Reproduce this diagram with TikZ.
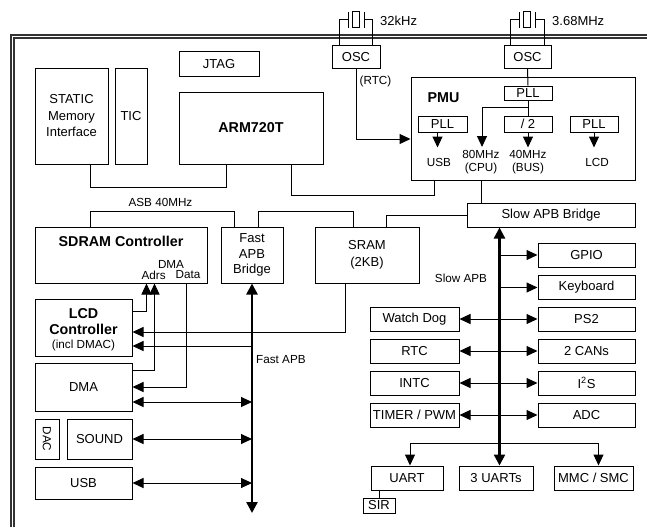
\documentclass[tikz,border=0pt]{standalone}
\usepackage{fontspec}
\setmainfont{Liberation Sans}
\usetikzlibrary{arrows.meta}
\tikzset{
  box/.style={draw, line width=1pt, inner sep=0pt, align=center, font=\fontsize{13}{16.5}\selectfont},
  ttl/.style={inner sep=0pt, align=center, font=\fontsize{14.3}{15.5}\bfseries\selectfont},
  lbl/.style={inner sep=0pt, align=center, font=\fontsize{11.7}{13.5}\selectfont},
  txt/.style={inner sep=0pt, align=center, font=\fontsize{13}{15}\selectfont},
  wire/.style={draw, line width=1pt},
  arr/.style={wire, -{Triangle[length=11pt,width=10pt]}},
  darr/.style={wire, {Triangle[length=11pt,width=10pt]}-{Triangle[length=11pt,width=10pt]}},
  bus/.style={draw, line width=2.4pt, {Triangle[length=11pt,width=11pt]}-{Triangle[length=11pt,width=11pt]}},
  frame/.style={draw, line width=1.1pt, black!80},
}
\begin{document}
\begin{tikzpicture}[x=1pt,y=-1pt]
\useasboundingbox (0,0) rectangle (647,527);
% outer double frame
\draw[frame] (11,527) -- (11,35) -- (647,35);
\draw[frame] (14,527) -- (14,38) -- (647,38);

% top-left blocks
\node[box, minimum width=80pt, minimum height=24pt] (jtag) at (219,64) {JTAG};
\node[box, minimum width=73pt, minimum height=96pt] (static) at (71.5,116) {STATIC\\Memory\\Interface};
\node[box, minimum width=32pt, minimum height=96pt] (tic) at (131,116) {TIC};
\node[box, minimum width=144pt, minimum height=72pt, font=\fontsize{14.3}{16}\bfseries\selectfont] (arm) at (251,128) {ARM720T};

% oscillators
\node[box, minimum width=48pt, minimum height=22pt] (osc1) at (356,57) {OSC};
\node[box, minimum width=47pt, minimum height=22pt] (osc2) at (527.5,57) {OSC};
\node[txt, anchor=west] (f32) at (380,21) {32kHz};
\node[txt, anchor=west] (f368) at (552,21) {3.68MHz};
\node[lbl] (rtcl) at (375.5,81) {(RTC)};

% crystal 1
\draw[wire] ([xshift=8pt]osc1.north west) |- (348,19.5);
\draw[wire] (348,12) -- (348,28);
\draw[wire] (352,12) rectangle (359.5,28);
\draw[wire] (364,12) -- (364,28);
\draw[wire] (364,19.5) -| ([xshift=-8pt]osc1.north east);
% crystal 2
\draw[wire] ([xshift=7pt]osc2.north west) |- (519,19.5);
\draw[wire] (519,12) -- (519,28);
\draw[wire] (523,12) rectangle (530.5,28);
\draw[wire] (535,12) -- (535,28);
\draw[wire] (535,19.5) -| ([xshift=-7pt]osc2.north east);

% PMU
\node[box, minimum width=224pt, minimum height=103pt] (pmu) at (523,128.5) {};
\node[ttl] (pmut) at (443.5,98) {PMU};
\node[box, minimum width=48pt, minimum height=14pt] (pllt) at (528,93) {PLL};
\node[box, minimum width=48pt, minimum height=16pt] (div2) at (528,124) {/ 2};
\node[box, minimum width=49pt, minimum height=16pt] (plll) at (442.5,124) {PLL};
\node[box, minimum width=48pt, minimum height=16pt] (pllr) at (594,124) {PLL};
\node[lbl] (usbc) at (439,162) {USB};
\node[lbl] (cpuc) at (481,162) {80MHz\\(CPU)};
\node[lbl] (busc) at (528,162) {40MHz\\(BUS)};
\node[lbl] (lcdc) at (597,162) {LCD};
\coordinate (tcpu) at (482,147);
\coordinate (br) at ([yshift=-7pt]pllt.south);
\draw[wire] (osc2.south) -- (pllt.north);
\draw[wire] (pllt.south) -- (div2.north);
\draw[arr] (br) -| (tcpu);
\draw[arr] (div2.south) -- ++(0,15);
\draw[arr] ([xshift=-5pt]plll.south) -- ++(0,15);
\draw[arr] (pllr.south) -- ++(0,15);
\coordinate (pmuL) at ([yshift=-10.5pt]pmu.west);
\draw[arr] (osc1.south) |- (pmuL);

% ASB level
\node[box, minimum width=168pt, minimum height=24pt] (sab) at (551,215) {Slow APB Bridge};
\node[box, minimum width=172pt, minimum height=56pt] (sdram) at (121,255) {};
\node[ttl] (sdramt) at (121,241) {SDRAM Controller};
\node[lbl] (dmal) at (171,264) {DMA};
\node[lbl] (adrs) at (153.7,275) {Adrs};
\node[lbl] (data) at (188,275) {Data};
\node[box, minimum width=62pt, minimum height=56pt, font=\fontsize{13}{15.5}\selectfont] (fab) at (252,255) {Fast\\APB\\Bridge};
\node[box, minimum width=104pt, minimum height=56pt] (sram) at (367,255) {SRAM\\(2KB)};
\node[lbl] (asb) at (160.5,202) {ASB 40MHz};

\draw[wire] ([xshift=56pt]static.south west) -- ++(0,23) -| ([xshift=48pt]arm.south west);
\draw[wire] ([xshift=113pt]arm.south west) -- ++(0,31) -| ([xshift=24pt]pmu.south west);
\coordinate (p82) at ([xshift=71pt]pmu.south west);
\draw[wire] (p82) -- (p82 |- sab.north);
\draw[wire] ([xshift=56pt]sdram.north west) -- ++(0,-15) -| ([xshift=14pt]fab.north west);
\draw[wire] ([xshift=38pt]fab.north west) -- ++(0,-15) -| ([xshift=39pt]sram.north west);
\draw[wire] ([xshift=72pt]sram.north west) |- (sab.west);

% left column
\node[box, minimum width=97pt, minimum height=57pt] (lcd) at (83.5,327.5) {};
\node[ttl] (lcdt1) at (83.5,314) {LCD};
\node[ttl] (lcdt2) at (83.5,329) {Controller};
\node[lbl] (lcdt3) at (83.5,345) {(incl DMAC)};
\node[box, minimum width=97pt, minimum height=48pt] (dma) at (83.5,387) {DMA};
\node[box, minimum width=24pt, minimum height=40pt] (dac) at (47,439) {};
\node[lbl, rotate=-90] (dact) at (dac) {DAC};
\node[box, minimum width=65pt, minimum height=40pt] (sound) at (99.5,439) {SOUND};
\node[box, minimum width=97pt, minimum height=32pt] (usb) at (83.5,483) {USB};
\node[lbl, anchor=west] (fapbl) at (256,360) {Fast APB};

\coordinate (fend) at (252,513);
\draw[bus] (fab.south) -- (fend);
\draw[arr] ([yshift=-12.5pt]lcd.north east) -| ([xshift=112pt]sdram.south west);
\draw[arr] ([yshift=-8pt]dma.north east) -| ([xshift=120pt]sdram.south west);
\draw[arr] ([xshift=152pt]sdram.south west) |- (dma.east);
\coordinate (lcd1) at ([yshift=-4.5pt]lcd.east);
\coordinate (lcd2) at ([yshift=-18.5pt]lcd.east);
\draw[arr] ([xshift=31pt]sram.south west) |- (lcd1);
\draw[arr] (fab.south |- lcd2) -- (lcd2);
\coordinate (dmaR) at ([yshift=-15pt]dma.east);
\draw[darr] (dmaR) -- (fab.south |- dmaR);
\draw[darr] (sound.east) -- (fab.south |- sound.east);
\draw[darr] (usb.east) -- (fab.south |- usb.east);

% slow APB peripherals
\node[box, minimum width=97pt, minimum height=24pt] (gpio) at (586.5,255) {GPIO};
\node[box, minimum width=97pt, minimum height=24pt] (kbd) at (586.5,287.5) {Keyboard};
\node[box, minimum width=97pt, minimum height=24pt] (ps2) at (586.5,319) {PS2};
\node[box, minimum width=97pt, minimum height=24pt] (cans) at (586.5,351) {2 CANs};
\node[box, minimum width=97pt, minimum height=24pt] (i2s) at (586.5,383) {I\textsuperscript{2}S};
\node[box, minimum width=97pt, minimum height=24pt] (adc) at (586.5,415) {ADC};
\node[box, minimum width=89pt, minimum height=24pt] (wdog) at (414.5,319) {Watch Dog};
\node[box, minimum width=89pt, minimum height=24pt] (rtc) at (414.5,351) {RTC};
\node[box, minimum width=89pt, minimum height=24pt] (intc) at (414.5,383) {INTC};
\node[box, minimum width=89pt, minimum height=24pt] (timer) at (414.5,415) {TIMER / PWM};
\node[box, minimum width=72pt, minimum height=24pt] (uart) at (407,478) {UART};
\node[box, minimum width=74pt, minimum height=24pt] (uarts) at (496,478) {3 UARTs};
\node[box, minimum width=79pt, minimum height=24pt] (mmc) at (593.5,478) {MMC / SMC};
\node[box, minimum width=32pt, minimum height=15pt] (sir) at (379,505.5) {SIR};
\node[lbl] (sapbl) at (461,278) {Slow APB};

\coordinate (sb) at ([xshift=33pt]sab.south west);
\draw[bus] (sb) -- (sb |- uarts.north);
\draw[arr] (sb |- gpio.west) -- (gpio.west);
\draw[arr] (sb |- kbd.west) -- (kbd.west);
\draw[darr] (wdog.east) -- (ps2.west);
\draw[darr] (rtc.east) -- (cans.west);
\draw[darr] (intc.east) -- (i2s.west);
\draw[darr] (timer.east) -- (adc.west);
\coordinate (j) at (500,443);
\draw[arr] (j) -| ([xshift=3pt]uart.north);
\draw[arr] (j) -| ([xshift=5pt]mmc.north);
\draw[wire] (sir.north |- uart.south) -- (sir.north);
\end{tikzpicture}
\end{document}
